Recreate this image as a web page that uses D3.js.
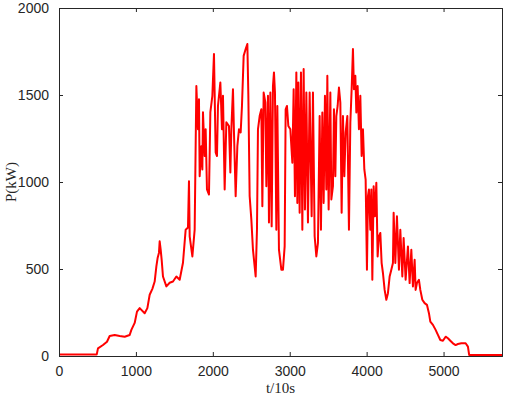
<!DOCTYPE html>
<html>
<head>
<meta charset="utf-8">
<script src="https://cdn.jsdelivr.net/npm/d3@7"></script>
<style>
  body { margin: 0; background: #fff; }
  .tick text { font-family: "Liberation Sans", Arial, sans-serif; font-size: 14px; fill: #262626; }
  .axis-title { font-family: "Liberation Serif", "Times New Roman", serif; font-size: 15px; fill: #262626; }
</style>
</head>
<body>
<div id="chart"></div>
<script>
// time in units of 10 s, power in kW
const tValues = [0, 490, 507, 572, 624, 659, 724, 789, 854, 919, 941, 984, 1014, 1049, 1114, 1149, 1179, 1214, 1244, 1266, 1283, 1300, 1309, 1322, 1335, 1352, 1396, 1439, 1482, 1526, 1569, 1612, 1647, 1677, 1690, 1699, 1734, 1764, 1786, 1807, 1820, 1829, 1851, 1864, 1872, 1894, 1907, 1924, 1950, 1968, 1994, 2015, 2037, 2054, 2067, 2098, 2119, 2132, 2154, 2176, 2210, 2228, 2241, 2262, 2275, 2297, 2319, 2340, 2362, 2379, 2401, 2427, 2449, 2462, 2479, 2501, 2522, 2557, 2574, 2587, 2609, 2631, 2644, 2661, 2683, 2696, 2717, 2730, 2748, 2765, 2782, 2795, 2808, 2826, 2839, 2860, 2891, 2912, 2934, 2947, 2964, 2982, 3008, 3034, 3051, 3068, 3086, 3099, 3112, 3129, 3146, 3164, 3181, 3198, 3216, 3237, 3259, 3285, 3302, 3324, 3346, 3367, 3389, 3406, 3424, 3441, 3458, 3476, 3489, 3506, 3528, 3541, 3562, 3575, 3593, 3606, 3623, 3640, 3658, 3675, 3692, 3710, 3727, 3749, 3770, 3788, 3805, 3822, 3835, 3853, 3866, 3883, 3900, 3918, 3935, 3952, 3970, 3987, 4004, 4017, 4030, 4048, 4061, 4074, 4091, 4108, 4126, 4143, 4160, 4178, 4195, 4212, 4234, 4256, 4277, 4299, 4321, 4342, 4351, 4373, 4394, 4420, 4438, 4464, 4481, 4507, 4537, 4559, 4581, 4602, 4624, 4637, 4654, 4680, 4698, 4724, 4754, 4784, 4810, 4828, 4862, 4897, 4927, 4958, 4992, 5027, 5057, 5088, 5122, 5157, 5187, 5231, 5287, 5317, 5333, 5760];
const pValues = [8, 8, 44, 63, 82, 115, 121, 115, 111, 121, 150, 190, 255, 275, 246, 275, 352, 386, 428, 515, 565, 594, 659, 611, 553, 457, 400, 421, 428, 457, 438, 536, 726, 738, 1005, 688, 572, 726, 1552, 1303, 1476, 1033, 1206, 1072, 1401, 1149, 1303, 957, 928, 1401, 1495, 1735, 1170, 1149, 1437, 1572, 1303, 1495, 957, 1343, 1322, 1055, 1303, 1533, 1285, 918, 1206, 1303, 1285, 1437, 1725, 1764, 1793, 1495, 918, 784, 611, 457, 726, 1303, 1379, 1418, 861, 1514, 1457, 976, 1495, 767, 1514, 745, 1552, 1630, 1514, 726, 1437, 611, 496, 496, 630, 1418, 1437, 1322, 1303, 1111, 1533, 918, 1630, 880, 1572, 823, 1630, 726, 1649, 842, 1514, 767, 1514, 803, 1514, 688, 572, 650, 1379, 726, 1399, 880, 1495, 957, 1610, 842, 1514, 900, 976, 1418, 1033, 1379, 1437, 1543, 1457, 823, 1379, 1033, 1284, 1379, 726, 1341, 1533, 1764, 1533, 1610, 1399, 1552, 1303, 1495, 1149, 1303, 1072, 1014, 496, 918, 957, 726, 957, 438, 976, 803, 995, 572, 688, 707, 534, 477, 380, 323, 361, 457, 496, 534, 823, 534, 803, 496, 726, 457, 678, 438, 630, 419, 611, 400, 553, 380, 419, 438, 380, 323, 304, 294, 246, 198, 179, 150, 121, 92, 88, 111, 102, 88, 73, 63, 69, 73, 73, 54, 6, 6];
const xTicks = [0, 1000, 2000, 3000, 4000, 5000];
const yTicks = [0, 500, 1000, 1500, 2000];

const width = 505, height = 399;
const margin = { top: 8, right: 3, bottom: 43, left: 59 };
const innerW = width - margin.left - margin.right;
const innerH = height - margin.top - margin.bottom;

const data = tValues.map((t, i) => ({ t, p: pValues[i] }));

const svg = d3.select('#chart').append('svg')
  .attr('width', width)
  .attr('height', height);

const g = svg.append('g')
  .attr('transform', `translate(${margin.left},${margin.top})`);

const x = d3.scaleLinear().domain([0, 5760]).range([0, innerW]);
const y = d3.scaleLinear().domain([0, 2000]).range([innerH, 0]);

// data line first, axes drawn over it
g.append('path')
  .datum(data)
  .attr('fill', 'none')
  .attr('stroke', '#ff0000')
  .attr('stroke-width', 2)
  .attr('stroke-linejoin', 'round')
  .attr('d', d3.line().x(d => x(d.t)).y(d => y(d.p)));

const axisColor = '#262626';

const xAxis = g.append('g')
  .attr('transform', `translate(0,${innerH})`)
  .call(d3.axisBottom(x).tickValues(xTicks).tickFormat(d3.format('d')).tickSize(-4).tickPadding(10));
const xTop = g.append('g')
  .call(d3.axisTop(x).tickValues(xTicks).tickFormat('').tickSize(-4));
const yAxis = g.append('g')
  .call(d3.axisLeft(y).tickValues(yTicks).tickFormat(d3.format('d')).tickSize(-4).tickPadding(10));
const yRight = g.append('g')
  .attr('transform', `translate(${innerW},0)`)
  .call(d3.axisRight(y).tickValues(yTicks).tickFormat('').tickSize(-4));

[xAxis, xTop, yAxis, yRight].forEach(a => {
  a.select('.domain').attr('stroke', axisColor).attr('stroke-width', 1);
  a.selectAll('.tick line').attr('stroke', axisColor);
});

g.append('text')
  .attr('class', 'axis-title')
  .attr('x', innerW / 2)
  .attr('y', innerH + 37)
  .attr('text-anchor', 'middle')
  .text('t/10s');

g.append('text')
  .attr('class', 'axis-title')
  .attr('transform', `translate(-43,${innerH / 2}) rotate(-90)`)
  .attr('text-anchor', 'middle')
  .text('P(kW)');
</script>
</body>
</html>
